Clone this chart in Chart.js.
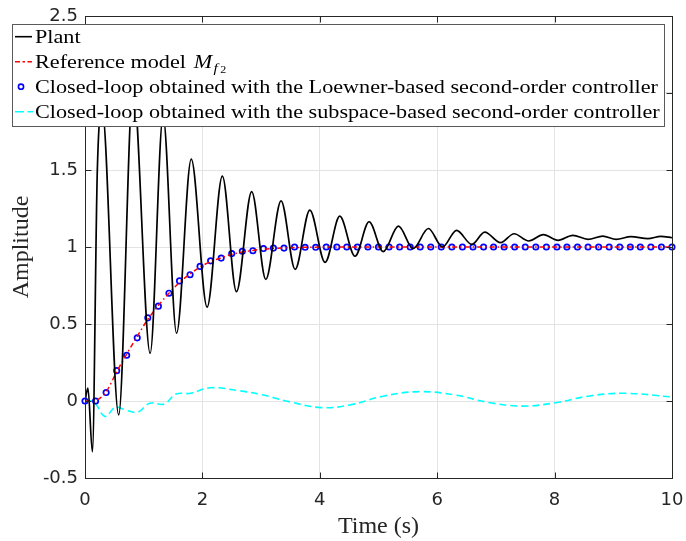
<!DOCTYPE html>
<html><head><meta charset="utf-8">
<script src="https://cdn.jsdelivr.net/npm/chart.js@4.4.1/dist/chart.umd.min.js"></script>
<style>html,body{margin:0;padding:0;background:#fff;} canvas{display:block;}</style>
</head><body>
<canvas id="c" width="686" height="541"></canvas>
<script>
// ---- data ----
const plantT = [0, 0.05, 0.126, 0.21, 0.29, 0.574, 0.82, 1.11, 1.33, 1.56, 1.81, 2.08, 2.34, 2.58, 2.84, 3.08, 3.34, 3.58, 3.83, 4.09, 4.34, 4.6, 4.84, 5.08, 5.34, 5.59, 5.85, 6.09, 6.33, 6.59, 6.81, 7.08, 7.31, 7.56, 7.81, 8.06, 8.31, 8.57, 8.82, 9.05, 9.3, 9.59, 9.81, 10];
const plantY = [0, 0.083, -0.33, 1.5, 1.9, -0.09, 2.05, 0.31, 1.85, 0.44, 1.57, 0.61, 1.46, 0.71, 1.36, 0.79, 1.30, 0.855, 1.24, 0.90, 1.20, 0.94, 1.164, 0.97, 1.136, 0.99, 1.12, 1.00, 1.108, 1.017, 1.097, 1.028, 1.086, 1.039, 1.08, 1.043, 1.076, 1.05, 1.071, 1.05, 1.067, 1.054, 1.069, 1.06];

const sampleT = [0, 0.18, 0.36, 0.54, 0.71, 0.89, 1.07, 1.25, 1.43, 1.61, 1.79, 1.96, 2.14, 2.32, 2.5, 2.68, 2.86, 3.04, 3.21, 3.39, 3.57, 3.75, 3.93, 4.11, 4.29, 4.46, 4.64, 4.82, 5.0, 5.18, 5.36, 5.54, 5.71, 5.89, 6.07, 6.25, 6.43, 6.61, 6.79, 6.96, 7.14, 7.32, 7.5, 7.68, 7.86, 8.04, 8.21, 8.39, 8.57, 8.75, 8.93, 9.11, 9.29, 9.46, 9.64, 9.82, 10.0];
const refY = [0, 0.005, 0.06, 0.19, 0.305, 0.42, 0.53, 0.62, 0.70, 0.77, 0.825, 0.87, 0.905, 0.93, 0.952, 0.967, 0.978, 0.986, 0.991, 0.994, 0.996, 0.998, 0.999, 1, 1, 1, 1, 1, 1, 1, 1, 1, 1, 1, 1, 1, 1, 1, 1, 1, 1, 1, 1, 1, 1, 1, 1, 1, 1, 1, 1, 1, 1, 1, 1, 1, 1];
const loewnerY = [0, 0.0, 0.055, 0.197, 0.297, 0.41, 0.54, 0.616, 0.70, 0.78, 0.82, 0.874, 0.91, 0.928, 0.957, 0.972, 0.976, 0.99, 0.993, 0.993, 1.0, 0.998, 0.998, 1, 1, 1, 1, 1, 1, 1, 1, 1, 1, 1, 1, 1, 1, 1, 1, 1, 1, 1, 1, 1, 1, 1, 1, 1, 1, 1, 1, 1, 1, 1, 1, 1, 1];

const subT = [0, 0.15, 0.34, 0.52, 0.7, 0.9, 1.1, 1.35, 1.55, 1.8, 2.13, 2.57, 3.02, 3.47, 4.03, 4.51, 5.1, 5.7, 6.3, 6.9, 7.46, 8.02, 8.6, 9.2, 10];
const subY = [0, -0.005, -0.10, -0.04, -0.06, -0.072, -0.015, -0.02, 0.045, 0.05, 0.086, 0.07, 0.04, -0.004, -0.043, -0.026, 0.033, 0.061, 0.039, -0.011, -0.033, -0.011, 0.033, 0.05, 0.026];

const xTicks = [0, 2, 4, 6, 8, 10];
const yTicks = [-0.5, 0, 0.5, 1, 1.5, 2, 2.5];
const xTitle = 'Time (s)';
const yTitle = 'Amplitude';
const legendLabels = [
  'Plant',
  'Reference model ',
  'Closed-loop obtained with the Loewner-based second-order controller',
  'Closed-loop obtained with the subspace-based second-order controller'
];

const pts = (xs, ys) => xs.map((x, i) => ({x: x, y: ys[i]}));

const framePlugin = {
  id: 'frame',
  afterDatasetsDraw(chart) {
    const {ctx, chartArea: a, scales: {x, y}} = chart;
    ctx.save();
    ctx.strokeStyle = '#262626';
    ctx.lineWidth = 1;
    const L = Math.round(a.left) + 0.5, R = Math.round(a.right) + 0.5;
    const T = Math.round(a.top) + 0.5, B = Math.round(a.bottom) + 0.5;
    ctx.strokeRect(L, T, R - L, B - T);
    ctx.beginPath();
    const tl = 6;
    xTicks.forEach(v => {
      const px = Math.round(x.getPixelForValue(v)) + 0.5;
      ctx.moveTo(px, B); ctx.lineTo(px, B - tl);
      ctx.moveTo(px, T); ctx.lineTo(px, T + tl);
    });
    yTicks.forEach(v => {
      const py = Math.round(y.getPixelForValue(v)) + 0.5;
      ctx.moveTo(L, py); ctx.lineTo(L + tl, py);
      ctx.moveTo(R, py); ctx.lineTo(R - tl, py);
    });
    ctx.stroke();
    ctx.restore();
  }
};

const legendPlugin = {
  id: 'boxLegend',
  afterDraw(chart) {
    const ctx = chart.ctx;
    ctx.save();
    const bx = 12.5, by = 24.5, bw = 652, bh = 102;
    ctx.fillStyle = '#ffffff';
    ctx.fillRect(bx, by, bw, bh);
    ctx.strokeStyle = '#5a5a5a';
    ctx.lineWidth = 1;
    ctx.strokeRect(bx, by, bw, bh);

    const base = [42.7, 67.7, 92.7, 117.7];
    const fs = 18.5;
    ctx.font = fs + 'px "Liberation Serif"';
    const w0 = ctx.measureText(legendLabels[2]).width;
    const sx = 623 / w0;
    // symbols
    ctx.lineWidth = 1.6;
    ctx.strokeStyle = '#000000';
    ctx.setLineDash([]);
    ctx.beginPath(); ctx.moveTo(15, base[0] - 6); ctx.lineTo(32, base[0] - 6); ctx.stroke();
    ctx.strokeStyle = '#ff0000';
    ctx.setLineDash([5, 2.5, 2.5, 2.5]);
    ctx.beginPath(); ctx.moveTo(15, base[1] - 6); ctx.lineTo(32, base[1] - 6); ctx.stroke();
    ctx.setLineDash([]);
    ctx.strokeStyle = '#0000ff';
    ctx.beginPath(); ctx.arc(21, base[2] - 6, 2.6, 0, Math.PI * 2); ctx.stroke();
    ctx.strokeStyle = '#00ffff';
    ctx.setLineDash([9, 3.5]);
    ctx.beginPath(); ctx.moveTo(15, base[3] - 6); ctx.lineTo(33, base[3] - 6); ctx.stroke();
    ctx.setLineDash([]);

    // texts, widened horizontally to match the reference typeface width
    const tx = 35;
    ctx.translate(tx, 0);
    ctx.scale(sx, 1);
    ctx.fillStyle = '#000000';
    ctx.textBaseline = 'alphabetic';
    ctx.textAlign = 'left';
    ctx.fillText(legendLabels[0], 0, base[0]);
    ctx.fillText(legendLabels[1], 0, base[1]);
    let wx = ctx.measureText(legendLabels[1]).width + 2;
    ctx.font = 'italic ' + fs + 'px "Liberation Serif"';
    ctx.fillText('M', wx, base[1]);
    wx += ctx.measureText('M').width + 1;
    ctx.font = 'italic 13px "Liberation Serif"';
    ctx.fillText('f', wx, base[1] + 4);
    wx += ctx.measureText('f').width + 2;
    ctx.font = '10px "Liberation Serif"';
    ctx.fillText('2', wx, base[1] + 5);
    ctx.font = fs + 'px "Liberation Serif"';
    ctx.fillText(legendLabels[2], 0, base[2]);
    ctx.fillText(legendLabels[3], 0, base[3]);
    ctx.restore();
  }
};

const tickFont = {family: '"DejaVu Sans", sans-serif', size: 18};
const titleFont = {family: '"Liberation Serif", serif', size: 24};

new Chart(document.getElementById('c'), {
  type: 'scatter',
  data: {
    datasets: [
      {label: legendLabels[0], data: pts(plantT, plantY), showLine: true, borderColor: '#000000', borderWidth: 1.7, pointRadius: 0, cubicInterpolationMode: 'monotone'},
      {label: legendLabels[1], data: pts(sampleT, refY), showLine: true, borderColor: '#ff0000', borderWidth: 1.5, borderDash: [5, 3, 1.5, 3], pointRadius: 0, cubicInterpolationMode: 'monotone'},
      {label: legendLabels[2], data: pts(sampleT, loewnerY), showLine: false, pointStyle: 'circle', pointRadius: 2.7, pointBorderWidth: 1.7, pointBorderColor: '#0000ff', pointBackgroundColor: 'rgba(0,0,0,0)', clip: false},
      {label: legendLabels[3], data: pts(subT, subY), showLine: true, borderColor: '#00ffff', borderWidth: 1.6, borderDash: [7, 4], pointRadius: 0, tension: 0.4}
    ]
  },
  options: {
    responsive: false,
    animation: false,
    devicePixelRatio: 1,
    layout: {padding: {top: 16, right: 14, left: 0, bottom: 0}},
    plugins: {legend: {display: false}, tooltip: {enabled: false}},
    scales: {
      x: {
        type: 'linear', min: 0, max: 10,
        afterFit: s => { s.height = 63; s.paddingLeft = 0; s.paddingRight = 0; },
        afterBuildTicks: s => { s.ticks = xTicks.map(v => ({value: v})); },
        ticks: {font: tickFont, color: '#262626', padding: 12, maxRotation: 0, callback: v => String(v)},
        grid: {color: '#e3e3e3', drawTicks: false, lineWidth: 1},
        border: {display: false},
        title: {display: true, text: xTitle, font: titleFont, color: '#262626', padding: {top: 3, bottom: 0}}
      },
      y: {
        type: 'linear', min: -0.5, max: 2.5,
        afterFit: s => { s.width = 85; s.paddingTop = 0; s.paddingBottom = 0; },
        afterBuildTicks: s => { s.ticks = yTicks.map(v => ({value: v})); },
        ticks: {font: tickFont, color: '#262626', padding: 7, callback: v => String(v)},
        grid: {color: '#e3e3e3', drawTicks: false, lineWidth: 1},
        border: {display: false},
        title: {display: true, text: yTitle, font: titleFont, color: '#262626', padding: {top: 7, bottom: 0}}
      }
    }
  },
  plugins: [framePlugin, legendPlugin]
});
</script>
</body></html>
